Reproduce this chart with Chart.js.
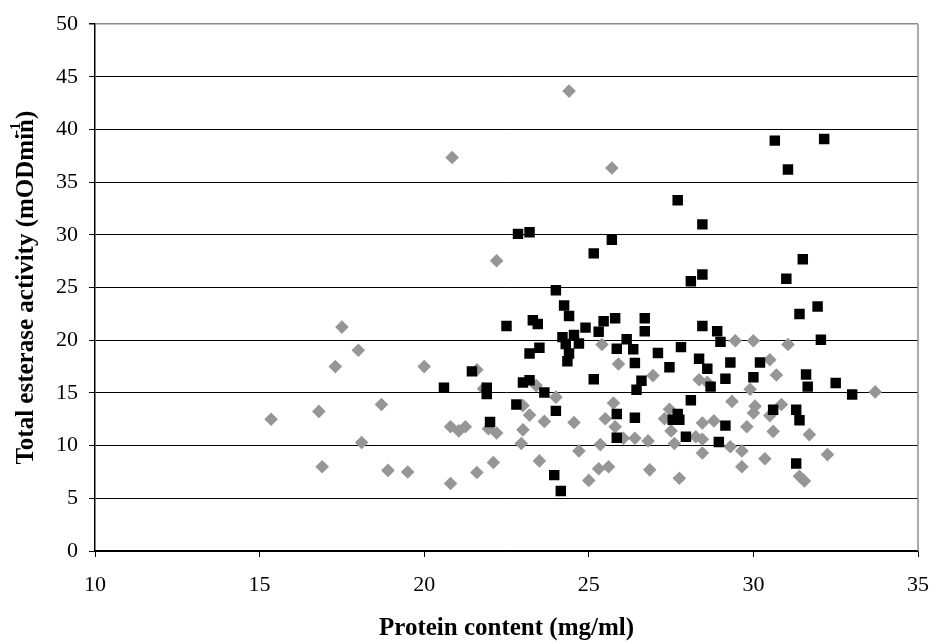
<!DOCTYPE html>
<html>
<head>
<meta charset="utf-8">
<script src="https://cdn.jsdelivr.net/npm/chart.js@4.4.1/dist/chart.umd.min.js"></script>
<style>
  html, body { margin: 0; padding: 0; background: #fff; }
</style>
</head>
<body>
<canvas id="myChart" width="944" height="644"></canvas>
<script>
// black squares
let squareX = [20.6, 21.45, 21.9, 21.9, 22.0, 22.5, 22.8, 22.85, 23.0, 23.2, 23.2, 23.2, 23.3, 23.45, 23.5,
  23.65, 23.95, 24.0, 24.0, 24.15, 24.2, 24.25, 24.3, 24.4, 24.4, 24.35, 24.55, 24.7, 24.9, 25.15,
  25.15, 25.3, 25.45, 25.7, 25.8, 25.85, 25.85, 25.85, 26.15, 26.35, 26.4, 26.4, 26.45, 26.6, 26.7,
  26.7, 27.1, 27.45, 27.55, 27.7, 27.75, 27.7, 27.8, 27.95, 28.1, 28.1, 28.35, 28.45, 28.45, 28.45,
  28.6, 28.7, 28.9, 28.95, 29.0, 29.15, 29.15, 29.3, 30.0, 30.2, 30.6, 30.65, 31.0, 31.05, 31.3,
  31.3, 31.4, 31.4, 31.5, 31.6, 31.65, 31.95, 32.05, 32.15, 32.5, 33.0];
let squareY = [15.5, 17.05, 15.5, 14.9, 12.25, 21.35, 13.9, 30.1, 16.0, 16.2, 30.25, 18.75, 21.9, 21.55, 19.3,
  15.05, 7.2, 13.3, 24.75, 5.7, 20.3, 23.3, 19.65, 22.3, 18.75, 18.0, 20.5, 19.7, 21.2, 16.3,
  28.25, 20.8, 21.8, 29.55, 22.1, 19.2, 13.0, 10.75, 20.1, 19.15, 17.85, 12.65, 15.3, 16.15, 22.1,
  20.85, 18.8, 17.45, 12.45, 13.0, 12.45, 33.3, 19.35, 10.85, 14.3, 25.6, 18.25, 26.25, 31.0, 21.35,
  17.3, 15.6, 20.85, 10.35, 19.85, 16.35, 11.9, 17.9, 16.5, 17.9, 13.4, 38.95, 25.85, 36.2, 13.4,
  8.3, 12.4, 22.5, 27.7, 16.75, 15.6, 23.2, 20.05, 39.1, 15.95, 14.85];

// grey diamonds
let diamondX = [15.35, 16.8, 16.9, 17.3, 17.5, 18.0, 18.1, 18.7, 18.9, 19.5, 20.0, 20.8, 20.8, 20.85, 21.05,
  21.25, 21.6, 21.6, 21.8, 21.95, 22.1, 22.2, 22.2, 23.0, 23.0, 22.95, 23.2, 23.4, 23.5, 23.65,
  24.0, 24.4, 24.55, 24.7, 25.0, 25.3, 25.35, 25.4, 25.5, 25.6, 25.7, 25.75, 25.8, 25.9, 26.05,
  26.4, 26.8, 26.85, 26.95, 27.3, 27.45, 27.5, 27.6, 27.75, 28.25, 28.35, 28.45, 28.45, 28.45, 28.6,
  28.8, 29.3, 29.35, 29.45, 29.65, 29.65, 29.8, 29.9, 30.0, 30.0, 30.05, 30.35, 30.5, 30.5, 30.6,
  30.7, 30.85, 31.05, 31.4, 31.55, 31.7, 32.25, 33.7];
let diamondY = [12.5, 13.25, 8.0, 17.5, 21.25, 19.05, 10.3, 13.9, 7.65, 7.5, 17.5, 6.4, 11.8, 37.35, 11.4,
  11.8, 17.2, 7.45, 15.4, 11.6, 8.4, 11.2, 27.55, 13.8, 11.5, 10.2, 12.9, 15.7, 8.55, 12.3,
  14.6, 43.65, 12.2, 9.5, 6.7, 7.8, 10.1, 19.6, 12.55, 8.0, 36.35, 14.05, 11.8, 17.75, 10.7,
  10.7, 10.45, 7.7, 16.65, 12.55, 13.45, 11.4, 10.2, 6.9, 10.85, 16.25, 12.15, 10.6, 9.3, 16.0,
  12.35, 9.9, 14.2, 19.95, 9.5, 8.0, 11.8, 15.35, 13.1, 19.95, 13.75, 8.75, 18.15, 12.85, 11.35,
  16.7, 13.9, 19.6, 7.1, 6.65, 11.05, 9.15, 15.1];

let yTicks = [0, 5, 10, 15, 20, 25, 30, 35, 40, 45, 50];
let xTicks = [10, 15, 20, 25, 30, 35];

let serif = '"Liberation Serif", "Times New Roman", serif';

function toPoints(xs, ys) {
  return xs.map((x, i) => ({ x: x, y: ys[i] }));
}

// right edge of the plot frame
const frameRight = {
  id: 'frameRight',
  beforeDatasetsDraw(chart) {
    let a = chart.chartArea;
    let c = chart.ctx;
    c.save();
    c.strokeStyle = '#8c8c8c';
    c.lineWidth = 1.5;
    c.beginPath();
    c.moveTo(a.right, a.top);
    c.lineTo(a.right, a.bottom);
    c.stroke();
    c.restore();
  }
};

// y axis title with the superscript unit, drawn rotated
const yTitle = {
  id: 'yTitle',
  afterDraw(chart) {
    let a = chart.chartArea;
    let c = chart.ctx;
    let main = 'Total esterase activity (mODmin';
    c.save();
    c.font = 'bold 25px ' + serif;
    let wMain = c.measureText(main).width;
    let wN = c.measureText('n').width;
    let wClose = c.measureText(')').width;
    let total = wMain + wClose;
    let cy = (a.top + a.bottom) / 2;
    c.translate(27, cy);
    c.rotate(-Math.PI / 2);
    c.fillStyle = '#000';
    c.textBaseline = 'middle';
    c.textAlign = 'left';
    let x0 = -total / 2;
    c.fillText(main, x0, 0);
    c.fillText(')', x0 + wMain, 0);
    c.font = 'bold 15px ' + serif;
    c.fillText('-1', x0 + wMain - wN - 2, -11);
    c.restore();
  }
};

let tickFont = { family: serif, size: 22 };
let titleFont = { family: serif, size: 25, weight: 'bold' };

let ctx = document.getElementById('myChart').getContext('2d');
let myChart = new Chart(ctx, {
  type: 'scatter',
  data: {
    datasets: [
      {
        label: 'squares',
        data: toPoints(squareX, squareY),
        pointStyle: 'rect',
        pointRadius: 7.4,
        backgroundColor: '#000000',
        borderColor: '#000000',
        borderWidth: 0,
      },
      {
        label: 'diamonds',
        data: toPoints(diamondX, diamondY),
        pointStyle: 'rectRot',
        pointRadius: 6.8,
        backgroundColor: '#969696',
        borderColor: '#969696',
        borderWidth: 0,
      },
    ],
  },
  options: {
    responsive: false,
    animation: false,
    layout: { padding: { top: 16, right: 12, left: 0, bottom: 0 } },
    plugins: {
      legend: { display: false },
      tooltip: { enabled: false },
    },
    scales: {
      x: {
        type: 'linear',
        min: 10,
        max: 35,
        afterBuildTicks: (scale) => { scale.ticks = xTicks.map(v => ({ value: v })); },
        afterFit: (scale) => { scale.height = 93; },
        grid: { drawOnChartArea: false, drawTicks: true, tickLength: 6, tickColor: '#000' },
        border: { display: true, color: '#000', width: 1.5 },
        ticks: { color: '#000', font: tickFont, padding: 15, maxRotation: 0 },
        title: { display: true, text: 'Protein content (mg/ml)', color: '#000', font: titleFont, padding: { top: 0, bottom: 0 } },
      },
      y: {
        type: 'linear',
        min: 0,
        max: 50,
        afterBuildTicks: (scale) => { scale.ticks = yTicks.map(v => ({ value: v })); },
        afterFit: (scale) => { scale.width = 95; },
        grid: {
          color: (c) => (c.tick && c.tick.value === 50 ? '#8c8c8c' : '#000'),
          lineWidth: (c) => (c.tick && c.tick.value === 50 ? 1.5 : 1),
          drawTicks: true,
          tickLength: 6,
          tickColor: '#000',
        },
        border: { display: true, color: '#000', width: 1.5 },
        ticks: { color: '#000', font: tickFont, padding: 11 },
        title: { display: false },
      },
    },
  },
  plugins: [frameRight, yTitle],
});
</script>
</body>
</html>
